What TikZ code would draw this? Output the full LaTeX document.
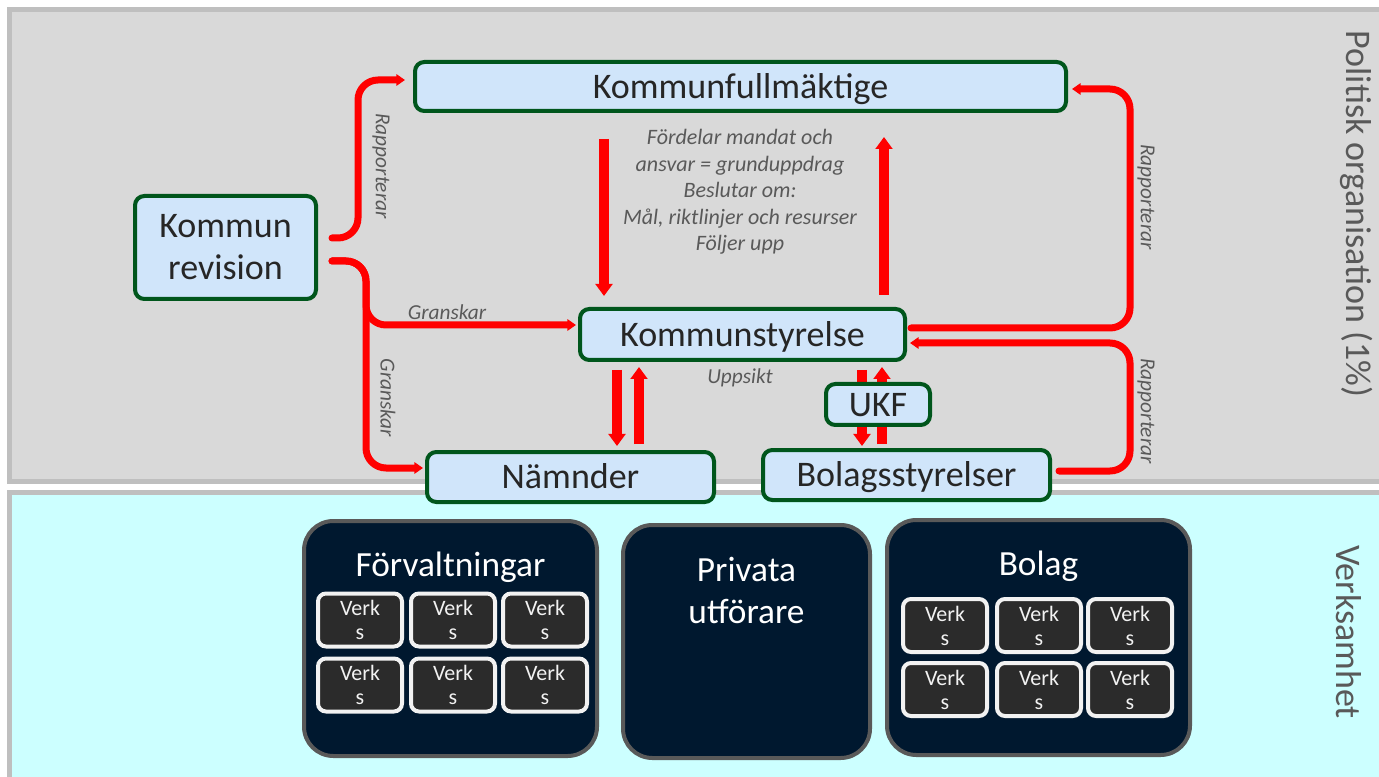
\documentclass[tikz,border=0pt]{standalone}
\usepackage{fontspec}
\setmainfont{Carlito}
\usetikzlibrary{arrows.meta,calc}
\definecolor{panelgray}{HTML}{D9D9D9}
\definecolor{panelborder}{HTML}{BFBFBF}
\definecolor{cyanbg}{HTML}{CCFFFF}
\definecolor{nodefill}{HTML}{D0E5FA}
\definecolor{nodeborder}{HTML}{00561C}
\definecolor{txtdark}{HTML}{262626}
\definecolor{darkboxfill}{HTML}{00182F}
\definecolor{darkborder}{HTML}{595959}
\definecolor{verkfill}{HTML}{2B2B2B}
\definecolor{verkborder}{HTML}{F2F2F2}
\definecolor{labelgray}{HTML}{595959}
\definecolor{arrowred}{HTML}{FF0000}
\tikzset{
  panel/.style={draw=panelborder, line width=3.75pt},
  orgnode/.style={draw=nodeborder, fill=nodefill, line width=3pt, rounded corners=7pt,
    text=txtdark, font=\fontsize{27}{31.5}\selectfont, inner sep=0pt, align=center},
  oneline/.style={text height=20pt, text depth=2.6pt},
  darkbox/.style={draw=darkborder, fill=darkboxfill, line width=3pt, rounded corners=22pt, inner sep=0pt},
  darktitle/.style={text=white, font=\fontsize{26.5}{31.5}\selectfont, inner sep=0pt, align=center},
  verks/.style={draw=verkborder, fill=verkfill, line width=3pt, rounded corners=6pt,
    minimum width=63pt, minimum height=39.75pt, inner sep=0pt, text=verkborder,
    font=\fontsize{16.5}{18}\selectfont, align=center},
  bigarrow/.style={draw=arrowred, line width=7.5pt, -{Triangle[width=12.5pt,length=9pt]}},
  conn/.style={draw=arrowred, line width=5.25pt, line cap=round, rounded corners=15pt,
    -{Triangle[width=8.5pt,length=6.5pt]}},
  lbl/.style={text=labelgray, font=\fontsize{16}{19}\selectfont\itshape, inner sep=0pt},
  sidelbl/.style={text=labelgray, font=\fontsize{27}{30}\selectfont, inner sep=0pt, rotate=-90},
}
\begin{document}
\begin{tikzpicture}[x=0.75pt,y=-0.75pt]
\clip (0,0) rectangle (1379,777);
\fill[white] (0,0) rectangle (1379,777);
\draw[panel, fill=panelgray] (9.5,9.5) rectangle (1400,481.5);
\draw[panel, fill=cyanbg] (9.5,492.5) rectangle (1400,800);

% side labels
\node[sidelbl] (pol) at (1357,214) {Politisk organisation (1\%)};
\node[sidelbl] (verk) at (1349,632) {Verksamhet};

% organisation nodes
\node[orgnode, oneline, minimum width=488.25pt, minimum height=36.75pt] (KF) at (740.5,86.5) {Kommunfullmäktige};
\node[orgnode, minimum width=135.75pt, minimum height=77.25pt] (Rev) at (225.5,247.5) {Kommun\\revision};
\node[orgnode, oneline, minimum width=243.75pt, minimum height=38.25pt] (KS) at (742.5,334.5) {Kommunstyrelse};
\node[orgnode, oneline, minimum width=215.25pt, minimum height=37.5pt] (Nam) at (570.5,477) {Nämnder};
\node[orgnode, oneline, minimum width=215.25pt, minimum height=37.5pt] (Bol) at (906.5,475) {Bolagsstyrelser};

% middle text and labels
\node[lbl, font=\fontsize{16.5}{19.9}\selectfont\itshape, align=center] (mid) at (740,192)
  {Fördelar mandat och\\ansvar = grunduppdrag\\Beslutar om:\\Mål, riktlinjer och resurser\\Följer upp};
\node[lbl] (upps) at (740,378) {Uppsikt};
\node[lbl, rotate=-90] (rap1) at (381,166) {Rapporterar};
\node[lbl, rotate=-90] (rap2) at (1146,197) {Rapporterar};
\node[lbl, rotate=-90] (rap3) at (1146,411) {Rapporterar};
\node[lbl] (gr1) at (447,312) {Granskar};
\node[lbl, rotate=-90] (gr2) at (388,398) {Granskar};

% x positions of vertical arrows
\coordinate (xa) at (604,0);
\coordinate (xb) at (884,0);
\coordinate (xc) at (617,0);
\coordinate (xd) at (639,0);
\coordinate (xe) at (862,0);
\coordinate (xf) at (882,0);

\draw[bigarrow, shorten <=19.5pt, shorten >=8.25pt] (KF.south -| xa) -- (KS.north -| xa);
\draw[bigarrow, shorten <=9pt, shorten >=18pt] (KS.north -| xb) -- (KF.south -| xb);
\draw[bigarrow, shorten <=6pt, shorten >=3pt] (KS.south -| xc) -- (Nam.north -| xc);
\draw[bigarrow, shorten <=4.5pt, shorten >=3.75pt] (Nam.north -| xd) -- (KS.south -| xd);
\draw[bigarrow, shorten <=6pt, shorten >=1.5pt] (KS.south -| xe) -- (Bol.north -| xe);
\draw[bigarrow, shorten <=3pt, shorten >=3.75pt] (Bol.north -| xf) -- (KS.south -| xf);

% connectors
\draw[conn] ($(Rev.east)+(14,-9.5)$) -| ($(KF.west)+(-55,-6.5)$) -- ($(KF.west)+(-8,-6.5)$);
\draw[conn] ($(Rev.east)+(14,13.5)$) -| ($(KS.west)+(-212,-9.5)$) -- ($(KS.west)+(-2,-9.5)$);
\draw[conn] ($(Rev.east)+(14,13.5)$) -| ($(Nam.west)+(-59,-9)$) -- ($(Nam.west)+(-2,-9)$);
\draw[conn] ($(KS.east)+(4,-6.5)$) -| ($(KF.east)+(62,2.5)$) -- ($(KF.east)+(4,2.5)$);
\draw[conn] ($(Bol.east)+(7,-4)$) -| ($(KS.east)+(223,8.5)$) -- ($(KS.east)+(3,8.5)$);

% UKF on top of the arrows
\node[orgnode, oneline, minimum width=78pt, minimum height=30.75pt] (UKF) at (878,404.5) {UKF};

% verksamhet boxes
\node[darkbox, minimum width=219.75pt, minimum height=176.25pt] (Forv) at (450.5,638.5) {};
\node[darkbox, minimum width=185.25pt, minimum height=174.75pt] (Priv) at (746.5,641.5) {};
\node[darkbox, minimum width=227.25pt, minimum height=176.25pt] (BolB) at (1038.5,637.5) {};
\node[darktitle, oneline] (ForvT) at (450.5,565) {Förvaltningar};
\node[darktitle] (PrivT) at (746.5,590) {Privata\\utförare};
\node[darktitle, oneline] (BolT) at (1038.5,564) {Bolag};

\foreach \i/\x in {1/360,2/453,3/545}{
  \foreach \j/\y in {1/620,2/685}{
    \node[verks] (FV\i\j) at (\x,\y) {Verk\\s};
  }
}
\foreach \i/\x in {1/945,2/1039,3/1130}{
  \foreach \j/\y in {1/625.5,2/689.5}{
    \node[verks] (BV\i\j) at (\x,\y) {Verk\\s};
  }
}
\end{tikzpicture}
\end{document}
